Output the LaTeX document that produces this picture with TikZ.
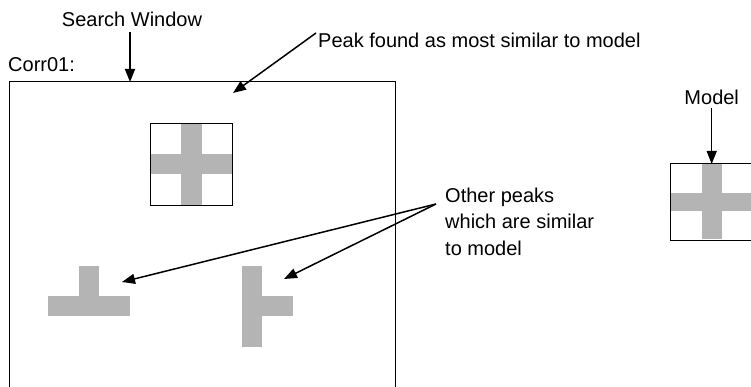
\documentclass[tikz,border=0pt]{standalone}
\usepackage{fontspec}
\setmainfont{Liberation Sans}
\usetikzlibrary{arrows.meta}
\definecolor{peakgray}{RGB}{180,180,180}
\tikzset{
  lbl/.style={inner sep=0pt, font=\fontsize{20}{26.5}\selectfont},
  frame/.style={draw=black, line width=1pt},
  bar/.style={fill=peakgray, draw=none},
  ptr/.style={draw=black, line width=1.5pt, -{Triangle[length=13pt,width=10pt]}}
}
\begin{document}
\begin{tikzpicture}[x=1pt,y=-1pt]
\useasboundingbox (0,0) rectangle (751,387);
\clip (0,0) rectangle (751,387);
% search window
\draw[frame] (9,400) -- (9,82) -- (395,82) -- (395,400);
\coordinate (swtop) at (130,82);
% inner model match box
\fill[bar] (181,123) rectangle (201.7,205);
\fill[bar] (150.3,153.7) rectangle (232.3,173.7);
\node[frame, minimum width=82pt, minimum height=82pt, inner sep=0pt, anchor=north west] (match) at (150.3,123) {};
% T shape
\fill[bar] (79.3,265.7) rectangle (99,295.7);
\fill[bar] (48.3,295.7) rectangle (129.7,316.3);
\coordinate (tpeak) at (122,282);
% side T shape
\fill[bar] (241.7,265.7) rectangle (261.7,347);
\fill[bar] (261.7,295.7) rectangle (293.3,316.3);
\coordinate (spleak) at (284,279);
% model
\fill[bar] (701.7,164) rectangle (721.7,239);
\fill[bar] (671,192.7) rectangle (760,210.7);
\draw[frame] (760,164) -- (670.7,164) -- (670.7,240) -- (760,240);
\coordinate (modeltop) at (711.7,164);
% labels
\node[lbl] (sw) at (132,19) {Search Window};
\node[lbl, anchor=west] (corr) at (8,65) {Corr01:};
\node[lbl, anchor=west] (peak) at (318,40) {Peak found as most similar to model};
\node[lbl] (model) at (711.7,97) {Model};
\node[lbl, anchor=west, align=left] (other) at (445,221.7) {Other peaks\\which are similar\\to model};
\coordinate (otherfrom) at (436,204);
\coordinate (peakfrom) at (316,33);
\coordinate (peakto) at (233,93);
% arrows
\draw[ptr] ([yshift=-5pt]sw.south -| swtop) -- (swtop);
\draw[ptr] (peakfrom) -- (peakto);
\draw[ptr] (otherfrom) -- (tpeak);
\draw[ptr] (otherfrom) -- (spleak);
\draw[ptr] ([yshift=-3pt]model.south -| modeltop) -- (modeltop);
\end{tikzpicture}
\end{document}
